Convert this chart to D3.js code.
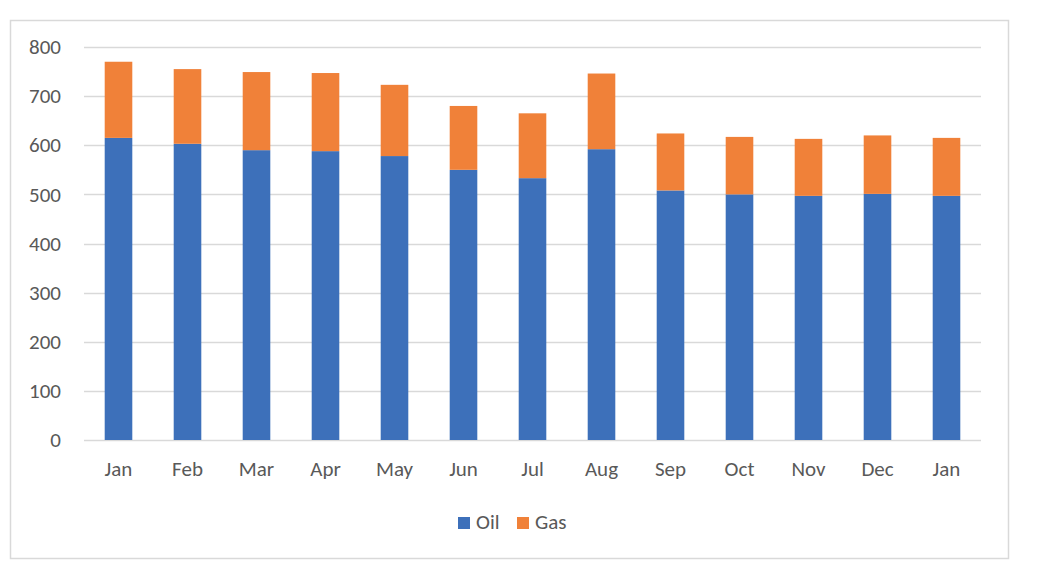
<!DOCTYPE html>
<html>
<head>
<meta charset="UTF-8">
<style>
  body { margin: 0; background: #fff; font-family: Carlito, Calibri, "Open Sans", sans-serif; }
  svg { display: block; }
  .tick text { fill: #595959; font-size: 21px; font-family: Carlito, Calibri, "Open Sans", sans-serif; }
</style>
</head>
<body>
<svg id="chart" width="1040" height="563"></svg>
<script src="https://d3js.org/d3.v7.min.js"></script>
<script>
const months = ["Jan", "Feb", "Mar", "Apr", "May", "Jun", "Jul", "Aug", "Sep", "Oct", "Nov", "Dec", "Jan"];
const oil = [615, 603, 590, 588, 578, 550, 533, 592, 508, 500, 497, 501, 497];
const gas = [155, 152, 159, 159, 145, 130, 132, 154, 116, 117, 116, 119, 118];
const yTicks = [0, 100, 200, 300, 400, 500, 600, 700, 800];
const seriesNames = ["Oil", "Gas"];
const colors = ["#3d70ba", "#f08139"];

const svg = d3.select("#chart");

// outer chart frame
svg.append("rect")
  .attr("x", 10.5).attr("y", 20.5)
  .attr("width", 998).attr("height", 538)
  .attr("fill", "#fff").attr("stroke", "#d9d9d9").attr("stroke-width", 1.5);

const plotLeft = 84, plotRight = 981, plotTop = 47, plotBottom = 440;

const idx = months.map((m, i) => i);
const x = d3.scaleBand().domain(idx).range([plotLeft, plotRight]).paddingInner(0.6).paddingOuter(0.3);
const y = d3.scaleLinear().domain([0, 800]).range([plotBottom, plotTop]);

// gridlines
svg.append("g")
  .selectAll("line")
  .data(yTicks)
  .enter()
  .append("line")
  .attr("x1", plotLeft).attr("x2", plotRight)
  .attr("y1", d => Math.round(y(d)) + 0.5).attr("y2", d => Math.round(y(d)) + 0.5)
  .attr("stroke", "#d9d9d9").attr("stroke-width", 1.3);

const rows = idx.map(i => ({ i: i, Oil: oil[i], Gas: gas[i] }));
const stacked = d3.stack().keys(seriesNames)(rows);

svg.append("g")
  .selectAll("g")
  .data(stacked)
  .enter()
  .append("g")
  .attr("fill", (d, k) => colors[k])
  .selectAll("rect")
  .data(d => d)
  .enter()
  .append("rect")
  .attr("x", d => x(d.data.i))
  .attr("width", x.bandwidth())
  .attr("y", d => y(d[1]))
  .attr("height", d => y(d[0]) - y(d[1]));

// y axis
const yAxis = svg.append("g")
  .attr("transform", "translate(" + (plotLeft - 23) + ",0)")
  .call(d3.axisLeft(y).tickValues(yTicks).tickSize(0).tickPadding(0));
yAxis.select(".domain").remove();

// x axis
const xAxis = svg.append("g")
  .attr("transform", "translate(0," + plotBottom + ")")
  .call(d3.axisBottom(x).tickFormat(i => months[i]).tickSize(0).tickPadding(21));
xAxis.select(".domain").remove();

// legend
const legend = svg.append("g").attr("transform", "translate(458,517)");
const items = [{ name: "Oil", dx: 0 }, { name: "Gas", dx: 59 }];
items.forEach((it, k) => {
  legend.append("rect")
    .attr("x", it.dx).attr("y", 0)
    .attr("width", 12).attr("height", 12)
    .attr("fill", colors[k]);
  legend.append("text")
    .attr("x", it.dx + 18).attr("y", 12)
    .attr("fill", "#595959").attr("font-size", 21)
    .text(it.name);
});
</script>
</body>
</html>
